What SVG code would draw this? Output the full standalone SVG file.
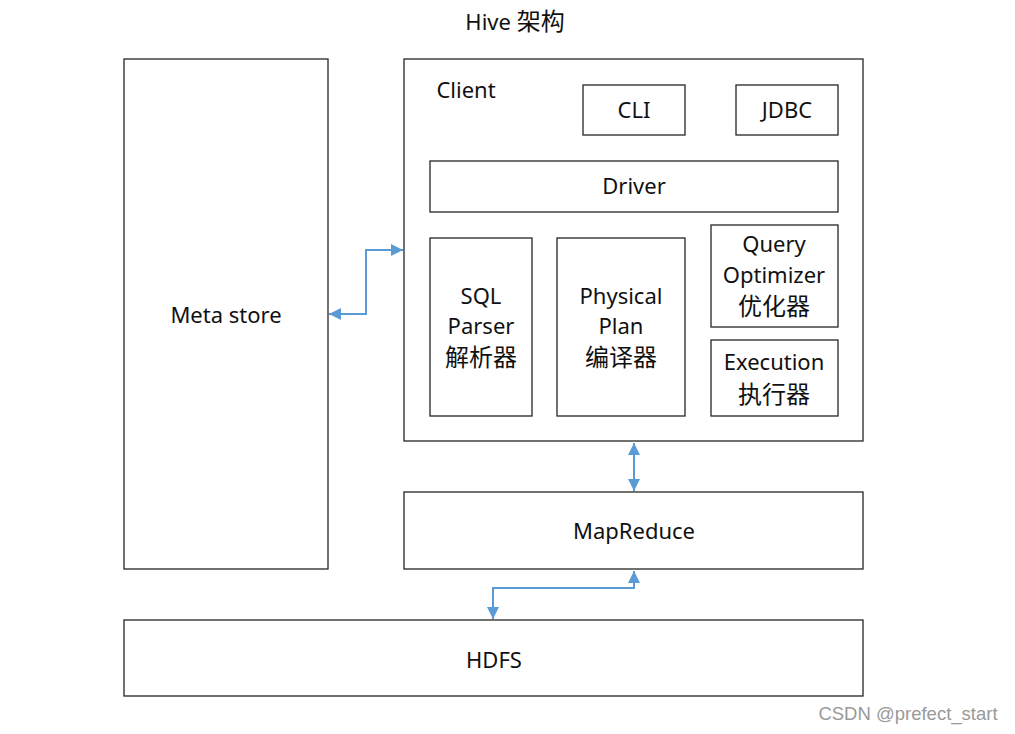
<svg xmlns="http://www.w3.org/2000/svg" width="1015" height="734" viewBox="0 0 1015 734">
<style>
.b{fill:#fff;stroke:#262626;stroke-width:1.3}
.t{font-family:"Noto Sans","Noto Sans CJK SC",sans-serif;font-size:22px;fill:#111;text-anchor:middle}
.z{font-family:"Noto Sans CJK SC",sans-serif;font-size:24px;fill:#111;text-anchor:middle}
.c{fill:none;stroke:#5B9BD5;stroke-width:2}
</style>
<defs>
<marker id="ah" viewBox="0 0 10 10" refX="10" refY="5" markerWidth="16" markerHeight="12" markerUnits="userSpaceOnUse" orient="auto-start-reverse">
<path d="M0,0L10,5L0,10z" fill="#5B9BD5"/>
</marker>
</defs>
<rect width="1015" height="734" fill="#fff"/>
<text x="515" y="30" class="t" style="font-size:22px">Hive <tspan style="font-size:24px">架构</tspan></text>
<g id="metastore"><rect class="b" x="124" y="59" width="204" height="510"/><text class="t" x="226" y="323">Meta store</text></g>
<g id="client"><rect class="b" x="404" y="59" width="459" height="382"/><text class="t" x="466" y="98">Client</text></g>
<g id="cli"><rect class="b" x="583" y="85" width="102" height="50"/><text class="t" x="634" y="118">CLI</text></g>
<g id="jdbc"><rect class="b" x="736" y="85" width="102" height="50"/><text class="t" x="787" y="118">JDBC</text></g>
<g id="driver"><rect class="b" x="430" y="161" width="408" height="51"/><text class="t" x="634" y="194">Driver</text></g>
<g id="sqlparser"><rect class="b" x="430" y="238" width="102" height="178"/><text class="t" x="481" y="304">SQL</text><text class="t" x="481" y="334">Parser</text><text class="z" x="481" y="366">解析器</text></g>
<g id="physicalplan"><rect class="b" x="557" y="238" width="128" height="178"/><text class="t" x="621" y="304">Physical</text><text class="t" x="621" y="334">Plan</text><text class="z" x="621" y="366">编译器</text></g>
<g id="optimizer"><rect class="b" x="711" y="225" width="127" height="102"/><text class="t" x="774" y="252">Query</text><text class="t" x="774" y="283">Optimizer</text><text class="z" x="774" y="315">优化器</text></g>
<g id="execution"><rect class="b" x="711" y="340" width="127" height="76"/><text class="t" x="774" y="370">Execution</text><text class="z" x="774" y="403">执行器</text></g>
<g id="mapreduce"><rect class="b" x="404" y="492" width="459" height="77"/><text class="t" x="634" y="539">MapReduce</text></g>
<g id="hdfs"><rect class="b" x="124" y="620" width="739" height="76"/><text class="t" x="494" y="668">HDFS</text></g>
<g id="connectors">
<path class="c" d="M329,314H366V250H403" marker-start="url(#ah)" marker-end="url(#ah)"/>
<path class="c" d="M634,443V491" marker-start="url(#ah)" marker-end="url(#ah)"/>
<path class="c" d="M634,571V588H493V619" marker-start="url(#ah)" marker-end="url(#ah)"/>
</g>
<text x="908" y="720" style="font-family:'Liberation Sans',sans-serif;font-size:18.5px;fill:#999;text-anchor:middle">CSDN @prefect_start</text>
</svg>
